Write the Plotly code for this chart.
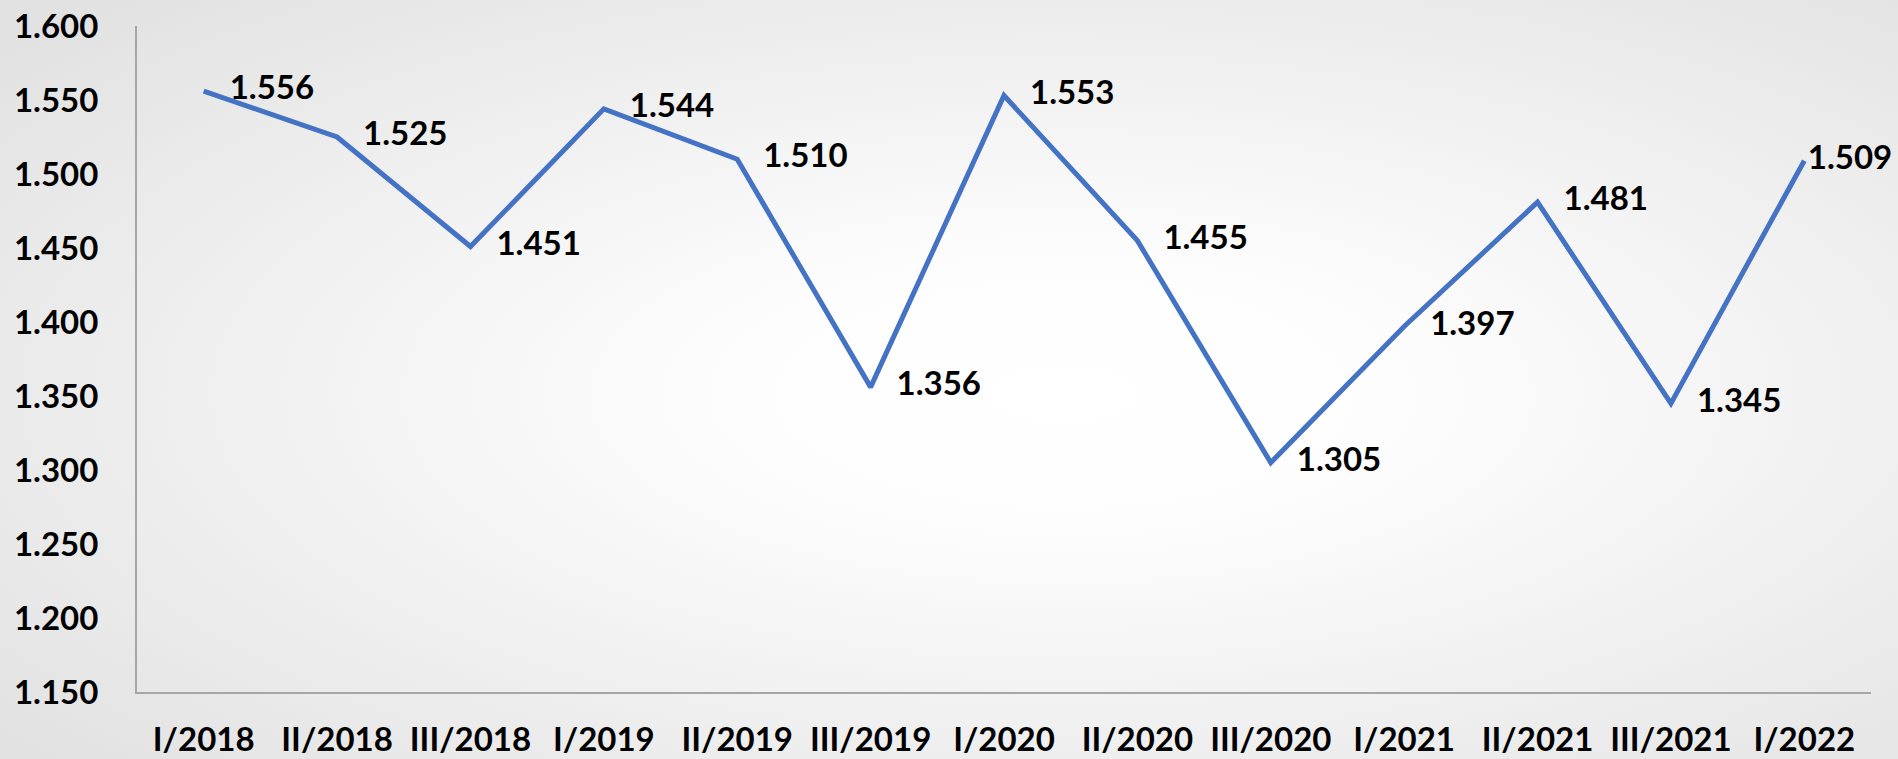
import base64
import plotly.graph_objects as go

# ---- data ----
quarters = ["I/2018", "II/2018", "III/2018", "I/2019", "II/2019", "III/2019",
            "I/2020", "II/2020", "III/2020", "I/2021", "II/2021", "III/2021", "I/2022"]
values = [1556, 1525, 1451, 1544, 1510, 1356, 1553, 1455, 1305, 1397, 1481, 1345, 1509]
y_ticks = [1150, 1200, 1250, 1300, 1350, 1400, 1450, 1500, 1550, 1600]

# labels formatted with '.' as thousands separator
labels = [f"{v:,}".replace(",", ".") for v in values]
# invisible marker sizes control the gap between point and its label
label_gap = [40] * (len(values) - 1) + [4]

# ---- background: soft radial gradient ----
svg = """<svg xmlns='http://www.w3.org/2000/svg' viewBox='0 0 100 100' preserveAspectRatio='none'>
<defs><radialGradient id='g' cx='0.56' cy='0.52' r='0.72'>
<stop offset='0' stop-color='#ffffff'/>
<stop offset='0.25' stop-color='#fdfdfd'/>
<stop offset='1' stop-color='#e2e2e2'/>
</radialGradient></defs>
<rect x='0' y='0' width='100' height='100' fill='url(#g)'/></svg>"""
bg = "data:image/svg+xml;base64," + base64.b64encode(svg.encode()).decode()

font_family = "Lato, 'Open Sans', Arial, sans-serif"

W, H = 1898, 759
ML, MR, MT, MB = 137, 27, 26, 67
PW, PH = W - ML - MR, H - MT - MB

fig = go.Figure()
fig.add_trace(go.Scatter(
    x=quarters, y=values,
    mode="lines+markers+text",
    line=dict(color="#4472C4", width=5),
    marker=dict(size=label_gap, color="rgba(0,0,0,0)", line=dict(width=0)),
    text=labels,
    textposition="middle right",
    textfont=dict(family=font_family, size=33, color="#000000", weight="bold"),
    cliponaxis=False,
    hoverinfo="skip",
    showlegend=False,
))

fig.update_layout(
    width=W, height=H,
    margin=dict(l=ML, r=MR, t=MT, b=MB, autoexpand=False),
    paper_bgcolor="#ffffff",
    plot_bgcolor="rgba(0,0,0,0)",
    separators=",.",
    images=[dict(source=bg, xref="paper", yref="paper",
                 x=-ML / PW, y=1 + MT / PH, sizex=W / PW, sizey=H / PH,
                 xanchor="left", yanchor="top",
                 sizing="stretch", layer="below")],
    showlegend=False,
)

fig.update_xaxes(
    type="category",
    range=[-0.5, len(quarters) - 0.5],
    automargin=False,
    showline=True, linecolor="#a6a6a6", linewidth=2,
    showgrid=False, zeroline=False, ticks="",
    tickfont=dict(family=font_family, size=33, color="#000000", weight="bold"),
    ticklabelstandoff=17,
)
fig.update_yaxes(
    range=[1150, 1600],
    tickvals=y_ticks,
    tickformat=",d",
    automargin=False,
    showline=True, linecolor="#a6a6a6", linewidth=2,
    showgrid=False, zeroline=False, ticks="",
    tickfont=dict(family=font_family, size=33, color="#000000", weight="bold"),
    ticklabelstandoff=30,
)

fig.write_html(
    "out.html",
    config={"displayModeBar": False},
    post_script="document.body.style.margin='0';document.body.style.overflow='hidden';",
)
